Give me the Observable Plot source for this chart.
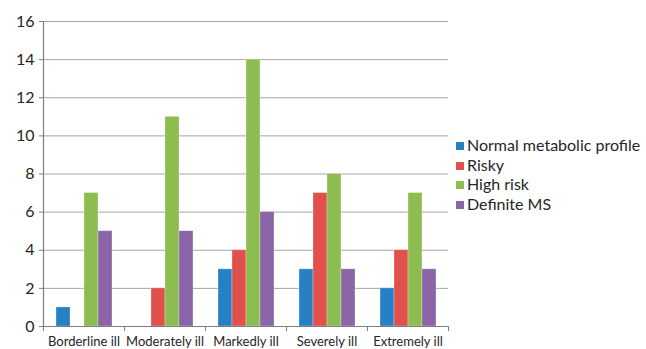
<!DOCTYPE html>
<html><head>
<meta charset="utf-8">
<script src="https://cdn.jsdelivr.net/npm/d3@7"></script>
<script src="https://cdn.jsdelivr.net/npm/@observablehq/plot@0.6"></script>
<style>
body{margin:0;background:#fff;font-family:Lato,sans-serif}
#wrap{position:relative;width:646px;height:349px}
#legend{position:absolute;left:456px;top:135px;font-size:16px;color:#262626;line-height:19.5px;white-space:nowrap}
.sw{display:inline-block;width:8px;height:8px;margin-right:3px;vertical-align:1px}
</style></head>
<body><div id="wrap"><div id="legend"></div></div>
<script>
const categories = ["Borderline ill","Moderately ill","Markedly ill","Severely ill","Extremely ill"];
const series = ["Normal metabolic profile","Risky","High risk","Definite MS"];
const colors = ["#2581C4","#E0504C","#8DBD50","#8A65A7"];
const normalValues = [1,0,3,3,2];
const riskyValues = [0,2,4,7,4];
const highRiskValues = [7,11,14,8,7];
const definiteValues = [5,5,6,3,3];
const yTicks = [0,2,4,6,8,10,12,14,16];

const valueSets = [normalValues, riskyValues, highRiskValues, definiteValues];
const data = [];
categories.forEach((c,i)=>series.forEach((s,j)=>data.push({category:c, series:s, value:valueSets[j][i]})));

const chart = Plot.plot({
  width:646, height:349,
  marginLeft:41, marginRight:197, marginTop:21, marginBottom:23,
  style:{fontFamily:"Lato, sans-serif", background:"white", color:"#262626"},
  fx:{domain:categories, padding:0, label:null},
  x:{domain:series, paddingInner:0, paddingOuter:0.775, axis:null},
  y:{domain:[0,16], label:null},
  color:{domain:series, range:colors},
  marks:[
    Plot.gridY(yTicks, {stroke:"#a6a6a6", strokeOpacity:1, strokeWidth:1}),
    Plot.barY(data.filter(d=>d.value>0), {fx:"category", x:"series", y:"value", fill:"series", stroke:"white", strokeOpacity:0.35, strokeWidth:0.8}),
    Plot.ruleY([0], {stroke:"#7f7f7f", strokeWidth:1.2}),
    Plot.frame({anchor:"left", facetAnchor:"left", stroke:"#7f7f7f", strokeWidth:1.2}),
    Plot.frame({anchor:"left", insetTop:305, insetBottom:-4, stroke:"#7f7f7f"}),
    Plot.frame({anchor:"right", facetAnchor:"right", insetTop:305, insetBottom:-4, stroke:"#7f7f7f"}),
    Plot.axisY(yTicks, {tickSize:4, tickPadding:5, fontSize:16, stroke:"#7f7f7f", fill:"#262626", label:null}),
    Plot.axisFx({anchor:"bottom", tickSize:0, tickPadding:10, fontSize:13, fill:"#262626", label:null})
  ]
});
document.getElementById("wrap").prepend(chart);

const legend = document.getElementById("legend");
series.forEach((s,i)=>{
  const row = document.createElement("div");
  row.innerHTML = `<span class="sw" style="background:${colors[i]}"></span>${s}`;
  legend.appendChild(row);
});
</script>
</body></html>
